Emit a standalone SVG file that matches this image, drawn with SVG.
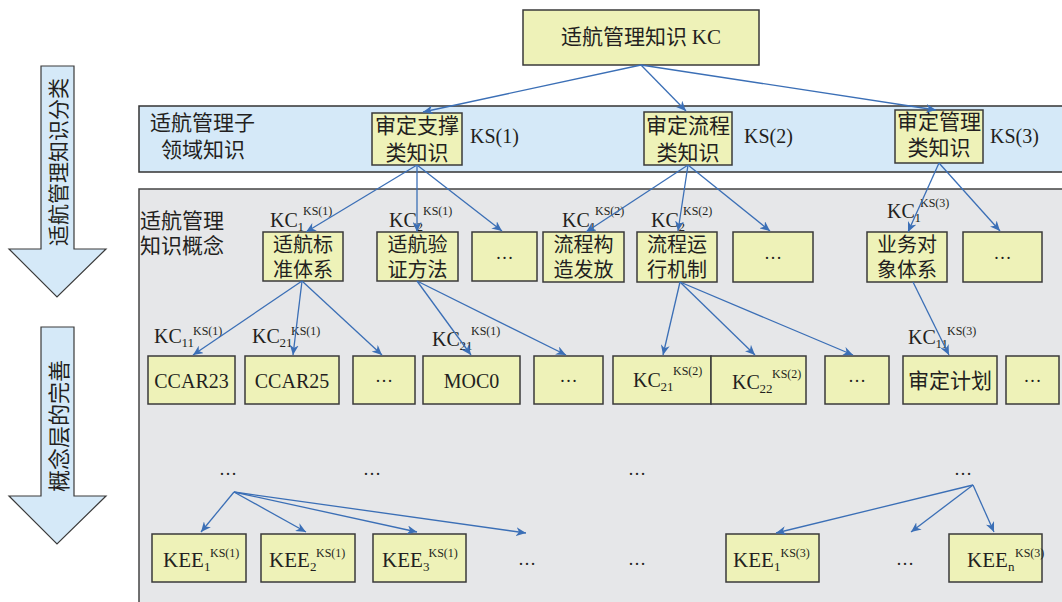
<svg xmlns="http://www.w3.org/2000/svg" width="1062" height="602" viewBox="0 0 1062 602">
<defs>
<marker id="ah" markerUnits="userSpaceOnUse" markerWidth="11" markerHeight="9" refX="10" refY="4.5" orient="auto">
<path d="M0,0 L10,4.5 L0,9 L3,4.5 Z" fill="#3b6fb6"/>
</marker>
<style>
.box{fill:#eef2b8;stroke:#3a3a3a;stroke-width:1.5}
.cn{font-family:"Noto Sans CJK SC","Liberation Serif",sans-serif;font-size:20px;fill:#231f20;text-anchor:middle}
.cnl{font-family:"Noto Sans CJK SC","Liberation Serif",sans-serif;font-size:21px;fill:#231f20}
.t{font-family:"Liberation Serif","Noto Sans CJK SC",serif;font-size:20px;fill:#231f20}
.tm{font-family:"Liberation Serif","Noto Sans CJK SC",serif;font-size:20px;fill:#231f20;text-anchor:middle}
.sub{font-size:13px}
.sup{font-size:12px}
.dots{font-family:"Liberation Serif",serif;font-size:18px;fill:#231f20;text-anchor:middle}
.cn-arrow{font-family:"Noto Sans CJK SC",sans-serif;font-size:21px;fill:#231f20;text-anchor:middle;dominant-baseline:central}
.lnk line{stroke:#3b6fb6;stroke-width:1.3;marker-end:url(#ah)}
.bigarrow{fill:#d5e9f8;stroke:#3a3a3a;stroke-width:1.2}
</style>
</defs>
<rect width="1062" height="602" fill="#ffffff"/>

<!-- left arrows -->
<g id="arrow-classify">
<polygon class="bigarrow" points="41,66 74,66 74,249 106,249 57,297 9,249 41,249"/>
<text class="cn-arrow" transform="translate(57,162) rotate(-90)">适航管理知识分类</text>
</g>
<g id="arrow-concept">
<polygon class="bigarrow" points="41,327 74,327 74,496 106,496 57,544 9,496 41,496"/>
<text class="cn-arrow" style="font-size:22px" transform="translate(57,426) rotate(-90)">概念层的完善</text>
</g>

<!-- bands -->
<g id="band-subdomain">
<rect x="139" y="106" width="930" height="66" fill="#d5e9f8" stroke="#333" stroke-width="1.5"/>
<text class="cnl" x="150" y="130">适航管理子</text>
<text class="cnl" x="161" y="157">领域知识</text>
</g>
<g id="band-concept">
<rect x="139" y="189" width="930" height="420" fill="#e6e7e9" stroke="#444" stroke-width="1.5"/>
<text class="cnl" x="140" y="228">适航管理</text>
<text class="cnl" x="140" y="253">知识概念</text>
</g>

<!-- root -->
<g id="kc">
<rect class="box" x="523" y="10" width="236" height="55"/>
<text class="cn" style="font-size:21px" x="641" y="44">适航管理知识 <tspan font-family="Liberation Serif">KC</tspan></text>
</g>

<!-- KS level -->
<g id="ks1">
<rect class="box" x="372" y="113" width="90" height="52"/>
<text class="cn" style="font-size:21px" x="417" y="133">审定支撑</text>
<text class="cn" style="font-size:21px" x="417" y="160">类知识</text>
<text class="t" x="470" y="143">KS(1)</text>
</g>
<g id="ks2">
<rect class="box" x="644" y="112" width="88" height="53"/>
<text class="cn" style="font-size:21px" x="688" y="133">审定流程</text>
<text class="cn" style="font-size:21px" x="688" y="160">类知识</text>
<text class="t" x="744" y="143">KS(2)</text>
</g>
<g id="ks3">
<rect class="box" x="895" y="110" width="88" height="53"/>
<text class="cn" style="font-size:21px" x="939" y="129">审定管理</text>
<text class="cn" style="font-size:21px" x="939" y="155">类知识</text>
<text class="t" x="990" y="143">KS(3)</text>
</g>

<!-- concept row 1 -->
<g id="c-std">
<rect class="box" x="263" y="232" width="80" height="49"/>
<text class="cn" x="303" y="252">适航标</text>
<text class="cn" x="303" y="277">准体系</text>
<text class="t" x="270" y="227">KC<tspan class="sub" x="297.5" y="231">1</tspan><tspan class="sup" x="303" y="215">KS(1)</tspan></text>
</g>
<g id="c-moc">
<rect class="box" x="377" y="232" width="81" height="49"/>
<text class="cn" x="417.5" y="252">适航验</text>
<text class="cn" x="417.5" y="277">证方法</text>
<text class="t" x="389" y="227">KC<tspan class="sub" x="416.5" y="231">2</tspan><tspan class="sup" x="423" y="215">KS(1)</tspan></text>
</g>
<g id="c-more1">
<rect class="box" x="472" y="232" width="65" height="49"/>
<text class="dots" x="504.5" y="259">…</text>
</g>
<g id="c-flow">
<rect class="box" x="543" y="232" width="81" height="50"/>
<text class="cn" x="583.5" y="252">流程构</text>
<text class="cn" x="583.5" y="277">造发放</text>
<text class="t" x="562" y="227">KC<tspan class="sub" x="589.5" y="231">1</tspan><tspan class="sup" x="595" y="215">KS(2)</tspan></text>
</g>
<g id="c-run">
<rect class="box" x="637" y="232" width="80" height="50"/>
<text class="cn" x="677" y="252">流程运</text>
<text class="cn" x="677" y="277">行机制</text>
<text class="t" x="651" y="227">KC<tspan class="sub" x="678.5" y="231">2</tspan><tspan class="sup" x="683" y="215">KS(2)</tspan></text>
</g>
<g id="c-more2">
<rect class="box" x="733" y="232" width="80" height="50"/>
<text class="dots" x="773" y="259">…</text>
</g>
<g id="c-biz">
<rect class="box" x="867" y="232" width="80" height="50"/>
<text class="cn" x="907" y="252">业务对</text>
<text class="cn" x="907" y="277">象体系</text>
<text class="t" x="887" y="218">KC<tspan class="sub" x="914.5" y="222">1</tspan><tspan class="sup" x="920" y="207">KS(3)</tspan></text>
</g>
<g id="c-more3">
<rect class="box" x="963" y="232" width="79" height="50"/>
<text class="dots" x="1002.5" y="259">…</text>
</g>

<!-- concept row 2 -->
<g id="n-ccar23">
<rect class="box" x="148" y="356" width="87" height="48"/>
<text class="tm" x="191.5" y="388">CCAR23</text>
<text class="t" x="154" y="343">KC<tspan class="sub" x="181.5" y="347">11</tspan><tspan class="sup" x="193" y="335">KS(1)</tspan></text>
</g>
<g id="n-ccar25">
<rect class="box" x="245" y="356" width="94" height="48"/>
<text class="tm" x="292" y="388">CCAR25</text>
<text class="t" x="252" y="343">KC<tspan class="sub" x="279.5" y="347">21</tspan><tspan class="sup" x="291" y="335">KS(1)</tspan></text>
</g>
<g id="n-more1">
<rect class="box" x="353" y="356" width="62" height="48"/>
<text class="dots" x="384" y="382">…</text>
</g>
<g id="n-moc0">
<rect class="box" x="423" y="356" width="97" height="48"/>
<text class="tm" x="471.5" y="388">MOC0</text>
<text class="t" x="432" y="346">KC<tspan class="sub" x="459.5" y="350">21</tspan><tspan class="sup" x="471" y="335">KS(1)</tspan></text>
</g>
<g id="n-more2">
<rect class="box" x="534" y="356" width="69" height="48"/>
<text class="dots" x="568.5" y="382">…</text>
</g>
<g id="n-kc21">
<rect class="box" x="613" y="356" width="98" height="48"/>
<text class="t" x="633" y="387">KC<tspan class="sub" x="660.5" y="391">21</tspan><tspan class="sup" x="673" y="375">KS(2)</tspan></text>
</g>
<g id="n-kc22">
<rect class="box" x="711" y="356" width="95" height="48"/>
<text class="t" x="732" y="389">KC<tspan class="sub" x="759.5" y="393">22</tspan><tspan class="sup" x="772" y="378">KS(2)</tspan></text>
</g>
<g id="n-more3">
<rect class="box" x="825" y="356" width="64" height="48"/>
<text class="dots" x="857" y="382">…</text>
</g>
<g id="n-plan">
<rect class="box" x="903" y="356" width="94" height="48"/>
<text class="cn" style="font-size:21px" x="950" y="388">审定计划</text>
<text class="t" x="908" y="344">KC<tspan class="sub" x="935.5" y="348">11</tspan><tspan class="sup" x="947" y="335">KS(3)</tspan></text>
</g>
<g id="n-more4">
<rect class="box" x="1006" y="356" width="53" height="48"/>
<text class="dots" x="1032.5" y="382">…</text>
</g>

<!-- ellipsis row -->
<g id="e-row">
<text class="dots" x="228" y="475">…</text>
<text class="dots" x="372" y="475">…</text>
<text class="dots" x="637" y="475">…</text>
<text class="dots" x="963" y="475">…</text>
</g>

<!-- KEE row -->
<g id="kee1">
<rect class="box" x="152" y="534" width="94" height="48"/>
<text class="t" style="font-size:21px" x="163" y="567">KEE<tspan class="sub" x="204" y="571">1</tspan><tspan class="sup" x="210" y="557">KS(1)</tspan></text>
</g>
<g id="kee2">
<rect class="box" x="261" y="534" width="94" height="48"/>
<text class="t" style="font-size:21px" x="269" y="567">KEE<tspan class="sub" x="310" y="571">2</tspan><tspan class="sup" x="316" y="557">KS(1)</tspan></text>
</g>
<g id="kee3">
<rect class="box" x="373" y="534" width="93" height="48"/>
<text class="t" style="font-size:21px" x="382" y="567">KEE<tspan class="sub" x="423" y="571">3</tspan><tspan class="sup" x="428.5" y="557">KS(1)</tspan></text>
</g>
<g id="kee-more">
<text class="dots" x="527" y="565">…</text>
<text class="dots" x="637" y="565">…</text>
<text class="dots" x="905" y="565">…</text>
</g>
<g id="kee1-3">
<rect class="box" x="726" y="534" width="93" height="48"/>
<text class="t" style="font-size:21px" x="733" y="567">KEE<tspan class="sub" x="774" y="571">1</tspan><tspan class="sup" x="780.5" y="557">KS(3)</tspan></text>
</g>
<g id="keen-3">
<rect class="box" x="949" y="534" width="93" height="48"/>
<text class="t" style="font-size:21px" x="967" y="567">KEE<tspan class="sub" x="1008" y="571">n</tspan><tspan class="sup" x="1015" y="557">KS(3)</tspan></text>
</g>

<!-- connectors -->
<g id="connectors" class="lnk">
<line x1="641" y1="65" x2="423" y2="112"/>
<line x1="641" y1="65" x2="686" y2="111"/>
<line x1="641" y1="65" x2="936" y2="110"/>
<line x1="417" y1="165" x2="306" y2="232"/>
<line x1="417" y1="165" x2="417" y2="232"/>
<line x1="417" y1="165" x2="502" y2="231"/>
<line x1="688" y1="165" x2="586" y2="232"/>
<line x1="688" y1="165" x2="678" y2="231"/>
<line x1="688" y1="165" x2="770" y2="231"/>
<line x1="939" y1="163" x2="908" y2="232"/>
<line x1="939" y1="163" x2="1000" y2="231"/>
<line x1="302" y1="281" x2="193" y2="355"/>
<line x1="302" y1="281" x2="293" y2="355"/>
<line x1="302" y1="281" x2="382" y2="355"/>
<line x1="417" y1="281" x2="471" y2="355"/>
<line x1="417" y1="281" x2="566" y2="355"/>
<line x1="680" y1="282" x2="663" y2="355"/>
<line x1="680" y1="282" x2="755" y2="355"/>
<line x1="680" y1="282" x2="853" y2="355"/>
<line x1="913" y1="282" x2="949" y2="355"/>
<line x1="234" y1="492" x2="201" y2="532"/>
<line x1="234" y1="492" x2="306" y2="532"/>
<line x1="234" y1="492" x2="417" y2="532"/>
<line x1="234" y1="492" x2="526" y2="533"/>
<line x1="973" y1="485" x2="776" y2="533"/>
<line x1="973" y1="485" x2="911" y2="532"/>
<line x1="973" y1="485" x2="994" y2="532"/>
</g>
</svg>
